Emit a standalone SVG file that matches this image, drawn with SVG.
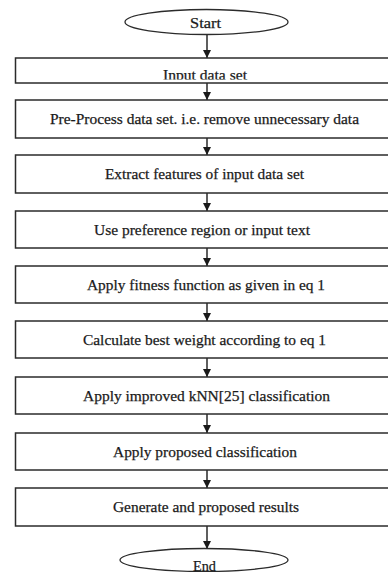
<svg xmlns="http://www.w3.org/2000/svg" width="388" height="572" viewBox="0 0 388 572">
  <style>
    .box { fill: #ffffff; stroke: #2b2b2b; stroke-width: 1.5; }
    .term { fill: #ffffff; stroke: #2b2b2b; stroke-width: 1.3; }
    .lbl { font-family: "Liberation Serif", "DejaVu Serif", serif; font-size: 15.5px; fill: #1a1a1a; stroke: #1a1a1a; stroke-width: 0.25; text-anchor: middle; }
    .wire { stroke: #1a1a1a; stroke-width: 1.4; fill: none; marker-end: url(#head); }
  </style>
  <defs>
    <marker id="head" viewBox="0 0 10 10" refX="10" refY="5" markerWidth="8" markerHeight="8" markerUnits="userSpaceOnUse" orient="auto">
      <path d="M0,0 L10,5 L0,10 Z" fill="#1a1a1a"/>
    </marker>
    <clipPath id="inputClip">
      <rect x="0" y="58" width="388" height="21.5"/>
    </clipPath>
  </defs>
  <rect width="388" height="572" fill="#ffffff"/>

  <!-- connectors -->
  <g id="connectors">
    <line class="wire" x1="207" y1="35" x2="207" y2="58"/>
    <line class="wire" x1="207" y1="83" x2="207" y2="100"/>
    <line class="wire" x1="207" y1="138" x2="207" y2="155"/>
    <line class="wire" x1="207" y1="193" x2="207" y2="211"/>
    <line class="wire" x1="207" y1="248" x2="207" y2="266"/>
    <line class="wire" x1="207" y1="303" x2="207" y2="321"/>
    <line class="wire" x1="207" y1="358" x2="207" y2="377"/>
    <line class="wire" x1="207" y1="414" x2="207" y2="433"/>
    <line class="wire" x1="207" y1="470" x2="207" y2="488"/>
    <line class="wire" x1="207" y1="526" x2="207" y2="549"/>
  </g>

  <g id="start">
    <ellipse class="term" cx="206.5" cy="22" rx="81.5" ry="12.5"/>
    <text class="lbl" x="205.5" y="27.5" textLength="31" lengthAdjust="spacingAndGlyphs">Start</text>
  </g>

  <g id="input">
    <rect class="box" x="15.5" y="58" width="390" height="25"/>
    <text class="lbl" x="205" y="79.5" textLength="84" lengthAdjust="spacingAndGlyphs" clip-path="url(#inputClip)">Input data set</text>
  </g>

  <g id="preprocess">
    <rect class="box" x="15.5" y="100" width="390" height="38"/>
    <text class="lbl" x="204.5" y="124" textLength="309" lengthAdjust="spacingAndGlyphs">Pre-Process data set. i.e. remove unnecessary data</text>
  </g>

  <g id="extract">
    <rect class="box" x="15.5" y="155" width="390" height="38"/>
    <text class="lbl" x="204.5" y="179" textLength="199" lengthAdjust="spacingAndGlyphs">Extract features of input data set</text>
  </g>

  <g id="preference">
    <rect class="box" x="15.5" y="211" width="390" height="37"/>
    <text class="lbl" x="202" y="234.5" textLength="216" lengthAdjust="spacingAndGlyphs">Use preference region or input text</text>
  </g>

  <g id="fitness">
    <rect class="box" x="15.5" y="266" width="390" height="37"/>
    <text class="lbl" x="206" y="289.5" textLength="238" lengthAdjust="spacingAndGlyphs">Apply fitness function as given in eq 1</text>
  </g>

  <g id="weight">
    <rect class="box" x="15.5" y="321" width="390" height="37"/>
    <text class="lbl" x="204.5" y="344.5" textLength="243" lengthAdjust="spacingAndGlyphs">Calculate best weight according to eq 1</text>
  </g>

  <g id="knn">
    <rect class="box" x="15.5" y="377" width="390" height="37"/>
    <text class="lbl" x="206.5" y="400.5" textLength="247" lengthAdjust="spacingAndGlyphs">Apply improved kNN[25] classification</text>
  </g>

  <g id="proposed">
    <rect class="box" x="15.5" y="433" width="390" height="37"/>
    <text class="lbl" x="205" y="456.5" textLength="184" lengthAdjust="spacingAndGlyphs">Apply proposed classification</text>
  </g>

  <g id="results">
    <rect class="box" x="15.5" y="488" width="390" height="38"/>
    <text class="lbl" x="206" y="512" textLength="186" lengthAdjust="spacingAndGlyphs">Generate and proposed results</text>
  </g>

  <g id="end">
    <ellipse class="term" cx="204" cy="560" rx="84" ry="11.5"/>
    <text class="lbl" x="204.5" y="570.5" textLength="23" lengthAdjust="spacingAndGlyphs">End</text>
  </g>
</svg>
